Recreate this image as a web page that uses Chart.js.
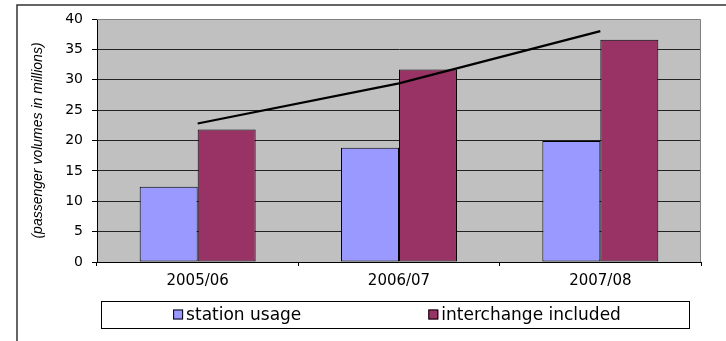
<!DOCTYPE html>
<html>
<head>
<meta charset="utf-8">
<script src="https://cdn.jsdelivr.net/npm/chart.js@4/dist/chart.umd.min.js"></script>
<style>
  body { margin: 0; background: #fff; }
  #wrap { width: 726px; height: 341px; }
</style>
</head>
<body>
<div id="wrap"><canvas id="myChart" width="726" height="341"></canvas></div>
<script>
// data
var years = ["2005/06", "2006/07", "2007/08"];
var stationUsage = [12.4, 18.8, 19.9];
var interchangeIncluded = [21.8, 31.7, 36.6];
var trendLine = [22.8, 29.4, 38.0];
var yTicks = [0, 5, 10, 15, 20, 25, 30, 35, 40];

var ctx = document.getElementById("myChart").getContext("2d");

//plot background + frame round the picture
var framePlugin = {
    id: "frame",
    beforeDraw: function(chart){
        var c = chart.ctx, a = chart.chartArea;
        c.save();
        c.fillStyle = "#c0c0c0";
        c.fillRect(a.left, a.top, a.right - a.left, a.bottom - a.top);
        c.strokeStyle = "#333";
        c.lineWidth = 1.5;
        c.beginPath();
        c.moveTo(17, 341);
        c.lineTo(17, 5);
        c.lineTo(726, 5);
        c.stroke();
        c.restore();
    },
    beforeDatasetsDraw: function(chart){
        var c = chart.ctx, a = chart.chartArea;
        c.save();
        c.strokeStyle = "#808080";
        c.lineWidth = 1;
        c.beginPath();
        c.moveTo(a.left, a.top + 0.5);
        c.lineTo(a.right - 0.5, a.top + 0.5);
        c.lineTo(a.right - 0.5, a.bottom);
        c.stroke();
        c.restore();
    }
};//End framePlugin

//boxed legend under the axis
var boxLegend = {
    id: "boxLegend",
    afterDraw: function(chart){
        var c = chart.ctx, a = chart.chartArea;
        var items = chart.data.datasets.filter(function(d){ return d.type !== "line"; });
        var left = a.left + 4, right = a.right - 12, top = 301, bottom = 328;
        c.save();
        c.fillStyle = "#fff";
        c.fillRect(left, top, right - left, bottom - top);
        c.strokeStyle = "#000";
        c.lineWidth = 1;
        c.strokeRect(left + 0.5, top + 0.5, right - left, bottom - top);

        c.font = "17px 'DejaVu Sans'";
        c.textBaseline = "middle";
        var gap = 127, box = 10, textGap = 3;
        var widths = items.map(function(d){ return box + textGap + c.measureText(d.label).width; });
        var total = widths[0] + gap + widths[1];
        var x = (left + right) / 2 - total / 2 + 2;
        var cy = (top + bottom) / 2;
        items.forEach(function(d, i){
            c.fillStyle = d.backgroundColor;
            c.fillRect(x, cy - box / 2, box, box);
            c.strokeRect(x + 0.5, cy - box / 2 + 0.5, box - 1, box - 1);
            c.fillStyle = "#000";
            c.fillText(d.label, x + box + textGap, cy + 1);
            x += widths[i] + gap;
        });
        c.restore();
    }
};//End boxLegend

var myChart = new Chart(ctx, {
    type: "bar",
    data: {
        labels: years,
        datasets: [
            {
                label: "station usage",
                data: stationUsage,
                backgroundColor: "#9999ff",
                borderColor: "#000",
                borderWidth: 1,
                borderSkipped: false,
                order: 1
            },
            {
                label: "interchange included",
                data: interchangeIncluded,
                backgroundColor: "#993366",
                borderColor: "#000",
                borderWidth: 1,
                borderSkipped: false,
                order: 1
            },
            {
                type: "line",
                label: "trend",
                data: trendLine,
                borderColor: "#000",
                borderWidth: 2.2,
                pointRadius: 0,
                tension: 0,
                fill: false,
                order: 0
            }
        ]
    },
    options: {
        responsive: false,
        animation: false,
        devicePixelRatio: 1,
        layout: { padding: { left: 0, top: 19, right: 25, bottom: 49 } },
        datasets: {
            bar: { categoryPercentage: 0.576, barPercentage: 1.0 }
        },
        plugins: {
            legend: { display: false },
            tooltip: { enabled: false }
        },
        scales: {
            x: {
                grid: { offset: true, drawOnChartArea: false, tickLength: 4, color: "#000" },
                border: { color: "#000", width: 1 },
                ticks: {
                    color: "#000",
                    padding: 6,
                    font: { family: "'DejaVu Sans'", size: 15 }
                },
                afterFit: function(s){ s.height = 30; }
            },
            y: {
                min: 0,
                max: 40,
                afterBuildTicks: function(s){
                    s.ticks = yTicks.map(function(v){ return { value: v }; });
                },
                grid: {
                    tickLength: 5,
                    tickColor: "#000",
                    color: function(c){ return c.tick && c.tick.value === 40 ? "rgba(0,0,0,0)" : "#222"; }
                },
                border: { color: "#000", width: 1 },
                ticks: {
                    color: "#000",
                    padding: 9,
                    font: { family: "'DejaVu Sans'", size: 14 }
                },
                title: {
                    display: true,
                    text: "(passenger volumes in millions)",
                    color: "#000",
                    padding: { top: 30, bottom: 0 },
                    font: { family: "'Liberation Sans'", size: 14, style: "italic" }
                },
                afterFit: function(s){ s.width = 97; }
            }
        }
    },
    plugins: [framePlugin, boxLegend]
});
</script>
</body>
</html>
